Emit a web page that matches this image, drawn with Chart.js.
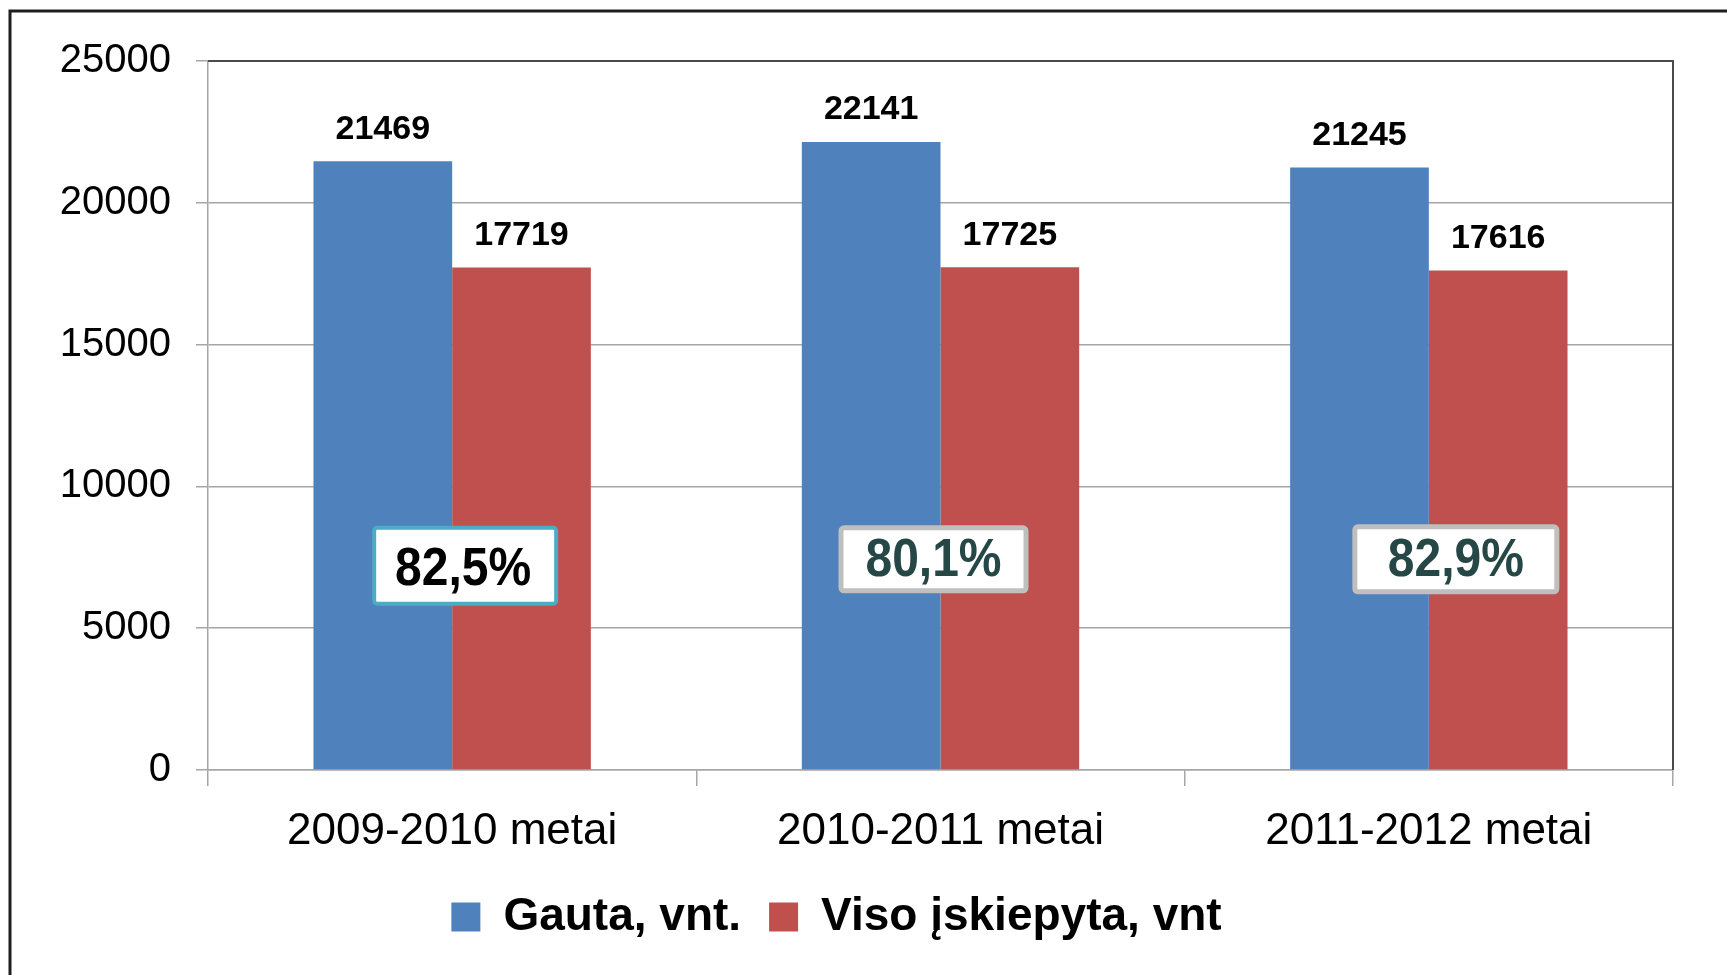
<!DOCTYPE html>
<html>
<head>
<meta charset="utf-8">
<script src="https://cdn.jsdelivr.net/npm/chart.js@4.4.1/dist/chart.umd.min.js"></script>
<style>
  html, body { margin: 0; padding: 0; background: #ffffff; }
  #wrap { width: 1727px; height: 975px; position: relative; }
  canvas { display: block; }
</style>
</head>
<body>
<div id="wrap"><canvas id="c" width="1727" height="975"></canvas></div>
<script>
// ---- data ----
const categories = ['2009-2010 metai', '2010-2011 metai', '2011-2012 metai'];
const seriesNames = ['Gauta, vnt.', 'Viso įskiepyta, vnt'];
const receivedValues = [21469, 22141, 21245];
const vaccinatedValues = [17719, 17725, 17616];
const ratioLabels = ['82,5%', '80,1%', '82,9%'];
const yTicks = [0, 5000, 10000, 15000, 20000, 25000];

// ---- styles ----
const FONT = "'Liberation Sans', Arial, sans-serif";
const GRID = '#A6A6A6';

const framePlugin = {
  id: 'frame',
  beforeDraw(chart) {
    const ctx = chart.ctx;
    ctx.save();
    ctx.fillStyle = '#ffffff';
    ctx.fillRect(0, 0, chart.width, chart.height);
    ctx.strokeStyle = '#1e1e1e';
    ctx.lineWidth = 3;
    ctx.strokeRect(10, 11, chart.width + 40, chart.height + 40);
    ctx.restore();
  },
  afterDraw(chart) {
    const {ctx, chartArea: a} = chart;
    ctx.save();
    ctx.strokeStyle = '#4a4a4a';
    ctx.lineWidth = 2;
    ctx.beginPath();
    ctx.moveTo(a.left, a.top);
    ctx.lineTo(a.right, a.top);
    ctx.lineTo(a.right, a.bottom);
    ctx.stroke();
    ctx.restore();
  }
};

const valueLabelPlugin = {
  id: 'valueLabels',
  afterDatasetsDraw(chart) {
    const ctx = chart.ctx;
    ctx.save();
    ctx.font = "bold 34px " + FONT;
    ctx.fillStyle = '#000000';
    ctx.textAlign = 'center';
    ctx.textBaseline = 'middle';
    chart.data.datasets.forEach((ds, di) => {
      const meta = chart.getDatasetMeta(di);
      meta.data.forEach((el, i) => {
        ctx.fillText(String(ds.data[i]), el.x, el.y - 32);
      });
    });
    ctx.restore();
  }
};

const ratioBoxPlugin = {
  id: 'ratioBoxes',
  afterDatasetsDraw(chart, args, opts) {
    const ctx = chart.ctx;
    const xs = chart.scales.x, ys = chart.scales.y;
    ctx.save();
    ratioLabels.forEach((txt, i) => {
      const s = opts.boxes[i];
      const cx = xs.getPixelForValue(i) + s.dx;
      const cy = ys.getPixelForValue(s.anchor);
      const x0 = cx - s.w / 2, y0 = cy - s.h / 2;
      ctx.beginPath();
      if (ctx.roundRect) ctx.roundRect(x0, y0, s.w, s.h, 3); else ctx.rect(x0, y0, s.w, s.h);
      ctx.fillStyle = '#ffffff';
      ctx.fill();
      ctx.lineWidth = s.bw;
      ctx.strokeStyle = s.border;
      ctx.stroke();
      ctx.save();
      ctx.translate(cx + s.tdx, cy + s.tdy);
      ctx.scale(1, 1.1);
      ctx.font = "bold 48px " + FONT;
      ctx.fillStyle = s.color;
      ctx.textAlign = 'center';
      ctx.textBaseline = 'middle';
      ctx.fillText(txt, 0, 2);
      ctx.restore();
    });
    ctx.restore();
  }
};

Chart.defaults.font.family = FONT;
Chart.defaults.color = '#000000';

new Chart(document.getElementById('c'), {
  type: 'bar',
  data: {
    labels: categories,
    datasets: [
      { label: seriesNames[0], data: receivedValues, backgroundColor: '#4F81BD', borderColor: '#7BA3D4', borderWidth: 0 },
      { label: seriesNames[1], data: vaccinatedValues, backgroundColor: '#C0504D', borderColor: '#D98583', borderWidth: 0 }
    ]
  },
  plugins: [framePlugin, valueLabelPlugin, ratioBoxPlugin],
  options: {
    responsive: false,
    animation: false,
    devicePixelRatio: 1,
    layout: { padding: { left: 0, right: 54, top: 61, bottom: 25 } },
    datasets: { bar: { categoryPercentage: 0.568, barPercentage: 1.0 } },
    scales: {
      x: {
        grid: { display: true, offset: true, drawOnChartArea: false, drawTicks: true, tickLength: 16, color: GRID, lineWidth: 1.5 },
        border: { display: true, color: GRID, width: 1.5 },
        ticks: { font: { size: 44 }, color: '#000000', padding: 19 },
        afterFit(scale) { scale.height = 96; }
      },
      y: {
        min: 0, max: 25000,
        afterBuildTicks(scale) { scale.ticks = yTicks.map(v => ({ value: v })); },
        grid: { color: GRID, lineWidth: 1.5, tickLength: 12, drawTicks: true },
        border: { display: true, color: GRID, width: 1.5 },
        ticks: { font: { size: 40 }, color: '#000000', padding: 25, callback: (v) => String(v) },
        afterFit(scale) { scale.width = 208; }
      }
    },
    plugins: {
      legend: {
        position: 'bottom',
        labels: {
          font: { size: 46, weight: 'bold' },
          color: '#000000',
          boxWidth: 29,
          boxHeight: 29,
          padding: 28
        }
      },
      tooltip: { enabled: false },
      ratioBoxes: {
        boxes: [
          { dx: 13, anchor: 7200, w: 182, h: 76, bw: 4, border: '#4BACC6', color: '#000000', tdx: -2, tdy: 2 },
          { dx: -7, anchor: 7430, w: 185, h: 63, bw: 5, border: '#BFBFBF', color: '#254745', tdx: 0, tdy: 0 },
          { dx: 27, anchor: 7430, w: 202, h: 65, bw: 5, border: '#BFBFBF', color: '#254745', tdx: 0, tdy: 0 }
        ]
      }
    }
  }
});
</script>
</body>
</html>
